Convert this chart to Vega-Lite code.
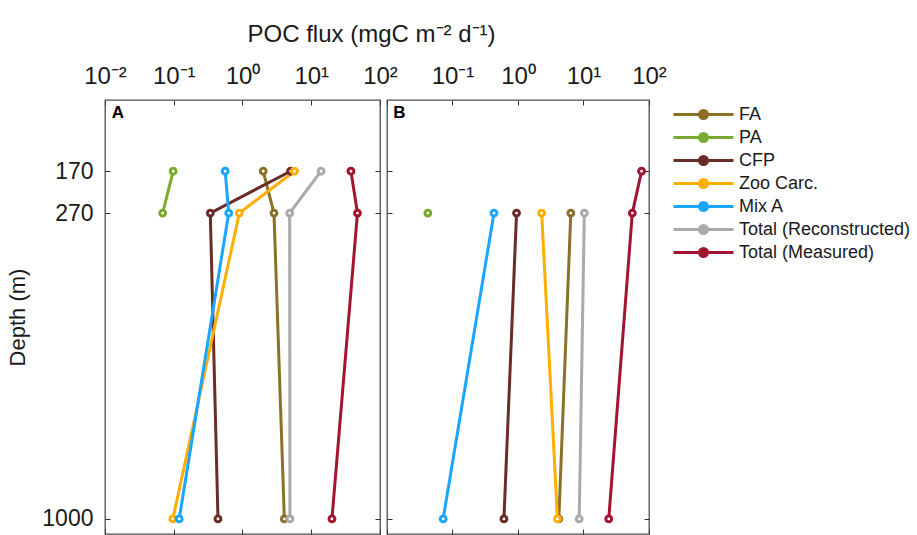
{
  "$schema": "https://vega.github.io/schema/vega-lite/v6.json",
  "padding": {"left": 6, "top": 21, "right": 0, "bottom": 0},
  "datasets": {
    "flux": [
      {"panel": "A", "series": "FA", "depth": 170, "flux": 2.0},
      {"panel": "A", "series": "FA", "depth": 270, "flux": 2.87},
      {"panel": "A", "series": "FA", "depth": 1000, "flux": 4.06},
      {"panel": "A", "series": "PA", "depth": 170, "flux": 0.098},
      {"panel": "A", "series": "PA", "depth": 270, "flux": 0.069},
      {"panel": "A", "series": "CFP", "depth": 170, "flux": 5.0},
      {"panel": "A", "series": "CFP", "depth": 270, "flux": 0.34},
      {"panel": "A", "series": "CFP", "depth": 1000, "flux": 0.44},
      {"panel": "A", "series": "Zoo Carc.", "depth": 170, "flux": 5.7},
      {"panel": "A", "series": "Zoo Carc.", "depth": 270, "flux": 0.9},
      {"panel": "A", "series": "Zoo Carc.", "depth": 1000, "flux": 0.097},
      {"panel": "A", "series": "Mix A", "depth": 170, "flux": 0.56},
      {"panel": "A", "series": "Mix A", "depth": 270, "flux": 0.63},
      {"panel": "A", "series": "Mix A", "depth": 1000, "flux": 0.12},
      {"panel": "A", "series": "Total (Reconstructed)", "depth": 170, "flux": 13.9},
      {"panel": "A", "series": "Total (Reconstructed)", "depth": 270, "flux": 4.85},
      {"panel": "A", "series": "Total (Reconstructed)", "depth": 1000, "flux": 4.9},
      {"panel": "A", "series": "Total (Measured)", "depth": 170, "flux": 37.8},
      {"panel": "A", "series": "Total (Measured)", "depth": 270, "flux": 47},
      {"panel": "A", "series": "Total (Measured)", "depth": 1000, "flux": 20},
      {"panel": "B", "series": "FA", "depth": 270, "flux": 6.4},
      {"panel": "B", "series": "FA", "depth": 1000, "flux": 4.2},
      {"panel": "B", "series": "PA", "depth": 270, "flux": 0.042},
      {"panel": "B", "series": "CFP", "depth": 270, "flux": 0.95},
      {"panel": "B", "series": "CFP", "depth": 1000, "flux": 0.61},
      {"panel": "B", "series": "Zoo Carc.", "depth": 270, "flux": 2.3},
      {"panel": "B", "series": "Zoo Carc.", "depth": 1000, "flux": 4.0},
      {"panel": "B", "series": "Mix A", "depth": 270, "flux": 0.43},
      {"panel": "B", "series": "Mix A", "depth": 1000, "flux": 0.072},
      {"panel": "B", "series": "Total (Reconstructed)", "depth": 270, "flux": 10.3},
      {"panel": "B", "series": "Total (Reconstructed)", "depth": 1000, "flux": 8.6},
      {"panel": "B", "series": "Total (Measured)", "depth": 170, "flux": 77},
      {"panel": "B", "series": "Total (Measured)", "depth": 270, "flux": 55.6},
      {"panel": "B", "series": "Total (Measured)", "depth": 1000, "flux": 24.3}
    ]
  },
  "config": {
    "font": "Liberation Sans",
    "view": {"stroke": "#4d4d4d", "strokeWidth": 1.3},
    "axis": {
      "domain": false,
      "grid": false,
      "tickColor": "#333333",
      "tickWidth": 1,
      "tickSize": -5,
      "labelFontSize": 23,
      "labelColor": "#1a1a1a",
      "titleFontSize": 22,
      "titleFontWeight": "normal",
      "titleColor": "#1a1a1a"
    },
    "legend": {
      "labelFontSize": 18,
      "labelColor": "#1a1a1a",
      "labelLimit": 400
    }
  },
  "bounds": "flush",
  "spacing": 7,
  "hconcat": [
    {
      "width": 275,
      "height": 434,
      "data": {"name": "flux"},
      "transform": [{"filter": "datum.panel === 'A'"}],
      "layer": [
        {
          "mark": {"type": "line", "strokeWidth": 3},
          "encoding": {
            "x": {
              "field": "flux", "type": "quantitative",
              "scale": {"type": "log", "domain": [0.01, 100]},
              "axis": {
                "orient": "top",
                "values": [0.01, 0.1, 1, 10, 100],
                "labelExpr": "datum.value < 0.05 ? '10⁻²' : datum.value < 0.5 ? '10⁻¹' : datum.value < 5 ? '10⁰' : datum.value < 50 ? '10¹' : '10²'",
                "labelFontSize": 24,
                "labelPadding": 17,
                "labelFlush": false,
                "title": "POC flux (mgC m⁻² d⁻¹)",
                "titleFontSize": 24,
                "titleX": 266,
                "titlePadding": 18
              }
            },
            "y": {
              "field": "depth", "type": "quantitative",
              "scale": {"domain": [0, 1036], "reverse": true, "nice": false},
              "axis": {
                "orient": "left",
                "values": [170, 270, 1000],
                "format": "d",
                "labelPadding": 17,
                "title": "Depth (m)",
                "titlePadding": 12
              }
            },
            "color": {
              "field": "series", "type": "nominal",
              "scale": {
                "domain": ["FA", "PA", "CFP", "Zoo Carc.", "Mix A", "Total (Reconstructed)", "Total (Measured)"],
                "range": ["#8B7128", "#77AC30", "#6A2C27", "#FFAF00", "#1AA5FF", "#AAAAAA", "#A2142F"]
              },
              "legend": {
                "title": null,
                "orient": "right",
                "offset": 0,
                "padding": 5,
                "symbolType": "M-3.75,0H3.75M-0.5,0A0.5,0.5,0,1,1,0.5,0A0.5,0.5,0,1,1,-0.5,0",
                "symbolSize": 256,
                "symbolStrokeWidth": 3,
                "symbolOffset": 22,
                "labelOffset": 26,
                "rowPadding": 2,
                "encode": {"symbols": {"update": {"fill": {"scale": "color", "field": "value"}}}}
              }
            },
            "order": {"field": "depth", "type": "quantitative"}
          }
        },
        {
          "mark": {"type": "point", "filled": false, "fill": "white", "size": 34, "strokeWidth": 3, "opacity": 1},
          "encoding": {
            "x": {
              "field": "flux", "type": "quantitative",
              "axis": {"orient": "bottom", "values": [0.01, 0.1, 1, 10, 100], "labels": false, "title": null}
            },
            "y": {
              "field": "depth", "type": "quantitative",
              "axis": {"orient": "right", "values": [170, 270, 1000], "labels": false, "title": null}
            },
            "color": {"field": "series", "type": "nominal"}
          }
        },
        {
          "data": {"values": [{"label": "A"}]},
          "mark": {"type": "text", "fontWeight": "bold", "fontSize": 17, "align": "left", "baseline": "middle", "color": "#000000"},
          "encoding": {
            "x": {"datum": 0.0125, "type": "quantitative", "axis": null},
            "y": {"datum": 32, "type": "quantitative", "axis": null},
            "text": {"field": "label"}
          }
        }
      ],
      "resolve": {"axis": {"x": "independent", "y": "independent"}}
    },
    {
      "width": 262,
      "height": 434,
      "data": {"name": "flux"},
      "transform": [{"filter": "datum.panel === 'B'"}],
      "layer": [
        {
          "mark": {"type": "line", "strokeWidth": 3},
          "encoding": {
            "x": {
              "field": "flux", "type": "quantitative",
              "scale": {"type": "log", "domain": [0.01, 100]},
              "axis": {
                "orient": "top",
                "values": [0.01, 0.1, 1, 10, 100],
                "labelExpr": "datum.value < 0.05 ? '' : datum.value < 0.5 ? '10⁻¹' : datum.value < 5 ? '10⁰' : datum.value < 50 ? '10¹' : '10²'",
                "labelFontSize": 24,
                "labelPadding": 17,
                "labelFlush": false,
                "title": null
              }
            },
            "y": {
              "field": "depth", "type": "quantitative",
              "scale": {"domain": [0, 1036], "reverse": true, "nice": false},
              "axis": {"orient": "left", "values": [170, 270, 1000], "labels": false, "title": null}
            },
            "color": {"field": "series", "type": "nominal"},
            "order": {"field": "depth", "type": "quantitative"}
          }
        },
        {
          "mark": {"type": "point", "filled": false, "fill": "white", "size": 34, "strokeWidth": 3, "opacity": 1},
          "encoding": {
            "x": {
              "field": "flux", "type": "quantitative",
              "axis": {"orient": "bottom", "values": [0.01, 0.1, 1, 10, 100], "labels": false, "title": null}
            },
            "y": {
              "field": "depth", "type": "quantitative",
              "axis": {"orient": "right", "values": [170, 270, 1000], "labels": false, "title": null}
            },
            "color": {"field": "series", "type": "nominal"}
          }
        },
        {
          "data": {"values": [{"label": "B"}]},
          "mark": {"type": "text", "fontWeight": "bold", "fontSize": 17, "align": "left", "baseline": "middle", "color": "#000000"},
          "encoding": {
            "x": {"datum": 0.0125, "type": "quantitative", "axis": null},
            "y": {"datum": 32, "type": "quantitative", "axis": null},
            "text": {"field": "label"}
          }
        }
      ],
      "resolve": {"axis": {"x": "independent", "y": "independent"}}
    }
  ]
}
